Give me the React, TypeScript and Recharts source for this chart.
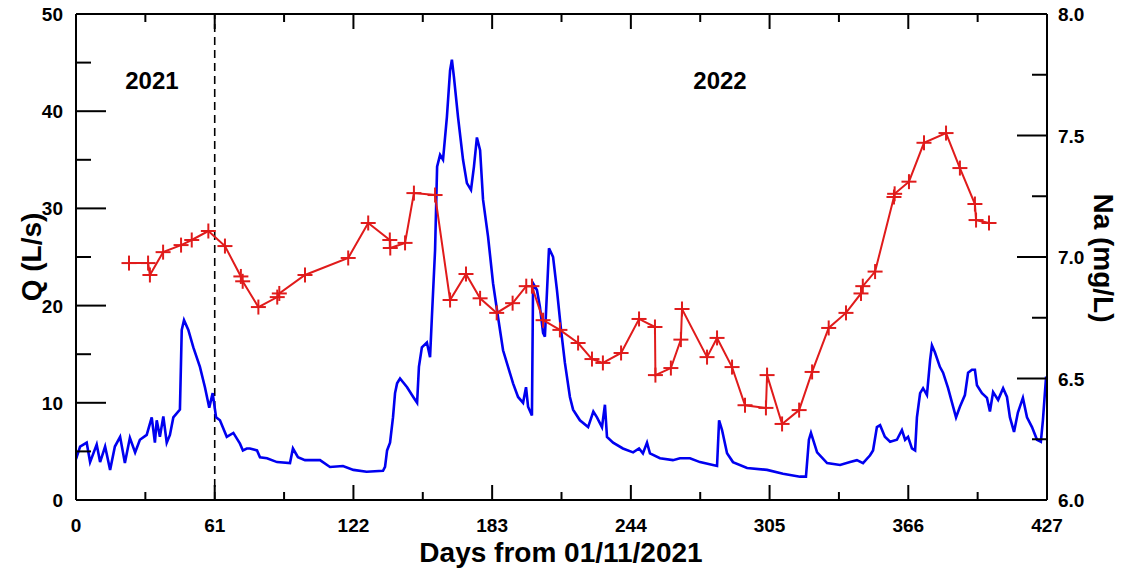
import { ComposedChart, Line, XAxis, YAxis, ReferenceLine, ReferenceDot } from 'recharts';

// discharge Q (L/s): [day, Q]
const flowReadings: [number, number][] = [
  [0, 4.2], [1.8, 5.5], [4.7, 5.9], [6.2, 3.9], [9.1, 5.7], [10.6, 3.9], [12.8, 5.5], [15.0, 3.1],
  [17.1, 5.5], [19.4, 6.5], [21.5, 3.8], [23.7, 6.4], [26.0, 4.9], [28.1, 6.2], [31.1, 6.7], [33.3, 8.5],
  [34.7, 5.9], [35.5, 8.2], [36.9, 6.5], [38.4, 8.6], [39.9, 5.9], [41.3, 6.7], [42.8, 8.5], [45.7, 9.3],
  [46.5, 17.5], [47.5, 18.5], [49.4, 17.5], [51.6, 15.7], [54.5, 13.7], [56.7, 11.6], [58.6, 9.5], [60.1, 11.0],
  [61.6, 8.5], [63.3, 8.2], [66.3, 6.5], [69.2, 6.9], [72.1, 5.8], [73.4, 5.1], [75.1, 5.3], [76.5, 5.3],
  [79.6, 5.1], [80.9, 4.4], [84.0, 4.3], [88.4, 3.9], [94.1, 3.8], [95.4, 5.3], [97.6, 4.4], [100.7, 4.1],
  [107.3, 4.1], [111.7, 3.4], [117.4, 3.5], [122.0, 3.1], [127.8, 2.9], [135.0, 3.0], [135.9, 3.4], [136.8, 5.1],
  [138.1, 5.9], [139.4, 8.5], [140.3, 11.0], [141.2, 12.0], [142.5, 12.5], [145.6, 11.6], [148.3, 10.6], [150.0, 10.0],
  [150.8, 13.7], [152.1, 15.7], [154.3, 16.2], [155.7, 14.7], [156.5, 18.8], [157.9, 25.7], [158.8, 34.3], [160.1, 35.5],
  [161.4, 35.0], [163.1, 39.4], [164.5, 44.2], [165.3, 45.3], [166.2, 43.5], [168.0, 39.4], [170.2, 35.0], [171.9, 32.6],
  [173.7, 31.9], [175.0, 34.3], [176.3, 37.3], [177.7, 36.0], [179.0, 30.9], [181.2, 27.1], [183.4, 22.3], [185.6, 18.8],
  [187.8, 15.4], [190.0, 13.7], [192.2, 12.0], [194.4, 10.6], [196.6, 10.0], [197.9, 11.6], [198.8, 9.6], [200.5, 8.7],
  [201.0, 22.3], [202.7, 21.6], [204.0, 19.9], [205.4, 17.2], [206.2, 16.8], [208.0, 25.9], [209.8, 25.0], [211.5, 21.6],
  [213.3, 17.5], [215.0, 14.1], [217.2, 10.6], [218.6, 9.3], [221.6, 8.2], [225.2, 7.5], [227.5, 9.1], [229.1, 8.5],
  [231.3, 7.5], [232.6, 9.8], [233.5, 6.5], [236.2, 5.9], [240.5, 5.3], [245.0, 4.9], [247.6, 5.3], [249.3, 4.8],
  [251.1, 5.9], [252.4, 4.8], [256.8, 4.3], [262.5, 4.1], [265.6, 4.3], [270.0, 4.3], [274.4, 3.9], [280.1, 3.6],
  [281.9, 3.5], [282.8, 8.2], [284.1, 7.2], [286.3, 4.8], [288.9, 3.9], [295.1, 3.3], [303.9, 3.1], [310.9, 2.7],
  [318.4, 2.4], [321.0, 2.4], [322.3, 6.2], [323.2, 6.9], [325.9, 4.9], [330.3, 3.8], [336.0, 3.6], [340.4, 3.9],
  [343.4, 4.1], [346.1, 3.8], [349.2, 4.6], [350.5, 5.1], [352.2, 7.5], [353.6, 7.7], [355.7, 6.5], [358.0, 6.0],
  [361.0, 6.2], [363.2, 7.2], [364.6, 6.2], [365.9, 6.5], [367.6, 5.3], [369.0, 5.1], [369.8, 8.5], [371.2, 11.0],
  [372.5, 11.5], [374.2, 10.8], [375.6, 14.4], [376.4, 15.9], [377.7, 15.2], [379.9, 13.7], [381.3, 13.1], [383.5, 11.5],
  [385.7, 9.6], [387.0, 8.5], [388.7, 9.6], [390.9, 10.8], [392.3, 13.1], [394.0, 13.4], [395.3, 13.4], [396.2, 11.8],
  [398.4, 11.0], [400.6, 10.5], [401.9, 9.1], [403.3, 11.1], [405.5, 10.3], [407.7, 11.5], [409.4, 10.6], [410.7, 8.5],
  [412.5, 7.0], [414.2, 9.0], [416.4, 10.5], [418.2, 8.5], [420.4, 7.5], [422.6, 6.2], [424.3, 6.0], [425.2, 8.2],
  [426.6, 12.7],
];

// sodium samples Na (mg/L): [day, Na]
const sodiumSamples: [number, number][] = [
  [23.3, 6.975], [31.7, 6.975], [32.5, 6.926], [38.3, 7.02], [46.2, 7.049], [50.9, 7.07], [58.2, 7.107],
  [65.5, 7.045], [72.5, 6.92], [73.3, 6.9], [80.2, 6.794], [88.5, 6.835], [89.4, 6.85], [100.7, 6.926],
  [119.7, 6.996], [128.5, 7.14], [138.0, 7.07], [138.2, 7.037], [144.7, 7.058], [148.6, 7.263], [157.9, 7.255],
  [164.5, 6.823], [171.5, 6.93], [177.7, 6.83], [185.0, 6.77], [192.0, 6.81], [198.0, 6.88], [200.5, 6.88],
  [205.4, 6.74], [212.8, 6.7], [220.8, 6.646], [226.9, 6.58], [231.7, 6.564], [239.7, 6.605], [247.6, 6.745],
  [254.6, 6.712], [254.8, 6.514], [261.6, 6.543], [266.0, 6.66], [266.5, 6.786], [277.5, 6.588], [281.9, 6.667],
  [288.5, 6.547], [294.2, 6.39], [303.4, 6.379], [303.9, 6.514], [310.5, 6.313], [318.0, 6.37], [323.7, 6.527],
  [331.0, 6.708], [338.6, 6.77], [345.2, 6.85], [346.0, 6.88], [351.4, 6.94], [359.7, 7.247], [360.0, 7.26],
  [366.3, 7.31], [372.9, 7.47], [382.6, 7.51], [388.7, 7.366], [395.3, 7.218], [395.8, 7.152], [401.5, 7.14],
];

const dayTicks = [0, 30.5, 61, 91.5, 122, 152.5, 183, 213.5, 244, 274.5, 305, 335.5, 366, 396.5, 427];
const qTicks = [0, 5, 10, 15, 20, 25, 30, 35, 40, 45, 50];
const naTicks = [6, 6.25, 6.5, 6.75, 7, 7.25, 7.5, 7.75, 8];
const yearLabels = [
  { text: '2021', day: 33.4, q: 43.2 },
  { text: '2022', day: 283.2, q: 43.2 },
];
const yearBoundary = 61;

const flowData = flowReadings.map(([day, q]) => ({ day, q }));
const sodiumData = sodiumSamples.map(([day, na]) => ({ day, na }));

const W = 1125;
const H = 575;
const PLOT_TOP = 14;
const PLOT_BOTTOM = 500;
const PLOT_LEFT = 76;
const PLOT_RIGHT = 1047;
const FONT = '"Liberation Sans", Arial, sans-serif';
const RED = '#e01b1b';
const BLUE = '#0000f0';

const XTick = (props: any) => {
  const { x, payload } = props;
  const v = payload.value;
  const major = v % 61 === 0;
  const len = major ? 15 : 8;
  return (
    <g>
      <line x1={x} x2={x} y1={PLOT_BOTTOM} y2={PLOT_BOTTOM - len} stroke="#000" strokeWidth={2} />
      <line x1={x} x2={x} y1={PLOT_TOP} y2={PLOT_TOP + len} stroke="#000" strokeWidth={2} />
      {major && (
        <text x={x} y={532} textAnchor="middle" fontSize={19} fontWeight="bold" fontFamily={FONT} fill="#000">
          {v}
        </text>
      )}
    </g>
  );
};

const QTick = (props: any) => {
  const { y, payload } = props;
  const v = payload.value;
  const major = v % 10 === 0;
  return (
    <g>
      <line x1={PLOT_LEFT} x2={PLOT_LEFT + (major ? 30 : 15)} y1={y} y2={y} stroke="#000" strokeWidth={2} />
      {major && (
        <text x={63} y={y + 7} textAnchor="end" fontSize={19} fontWeight="bold" fontFamily={FONT} fill="#000">
          {v}
        </text>
      )}
    </g>
  );
};

const NaTick = (props: any) => {
  const { y, payload } = props;
  const v = payload.value;
  const major = Math.abs((v * 2) % 1) < 1e-6;
  return (
    <g>
      <line x1={PLOT_RIGHT} x2={PLOT_RIGHT - (major ? 30 : 15)} y1={y} y2={y} stroke="#000" strokeWidth={2} />
      {major && (
        <text x={1058} y={y + 7} textAnchor="start" fontSize={19} fontWeight="bold" fontFamily={FONT} fill="#000">
          {v.toFixed(1)}
        </text>
      )}
    </g>
  );
};

const PlusDot = (props: any) => {
  const { cx, cy, index } = props;
  if (cx == null || cy == null) return <g key={`p${index}`} />;
  return (
    <g key={`p${index}`}>
      <line x1={cx - 7.5} x2={cx + 7.5} y1={cy} y2={cy} stroke={RED} strokeWidth={2} />
      <line x1={cx} x2={cx} y1={cy - 7.5} y2={cy + 7.5} stroke={RED} strokeWidth={2} />
    </g>
  );
};

const titleStyle: React.CSSProperties = {
  position: 'absolute',
  fontFamily: FONT,
  fontWeight: 'bold',
  fontSize: 28,
  whiteSpace: 'nowrap',
  color: '#000',
  lineHeight: 1,
};

export default function App() {
  return (
    <div style={{ position: 'absolute', left: 0, top: 0, width: W, height: H, background: '#fff' }}>
      <ComposedChart width={W} height={H} margin={{ top: PLOT_TOP, right: 0, bottom: 0, left: 0 }}>
        <XAxis
          dataKey="day"
          type="number"
          domain={[0, 427]}
          ticks={dayTicks}
          interval={0}
          allowDataOverflow
          height={75}
          tickLine={false}
          axisLine={{ stroke: '#000', strokeWidth: 2 }}
          tick={<XTick />}
        />
        <YAxis
          yAxisId="left"
          domain={[0, 50]}
          ticks={qTicks}
          interval={0}
          allowDataOverflow
          width={76}
          tickLine={false}
          axisLine={{ stroke: '#000', strokeWidth: 2 }}
          tick={<QTick />}
        />
        <YAxis
          yAxisId="right"
          orientation="right"
          domain={[6, 8]}
          ticks={naTicks}
          interval={0}
          allowDataOverflow
          width={78}
          tickLine={false}
          axisLine={{ stroke: '#000', strokeWidth: 2 }}
          tick={<NaTick />}
        />
        <ReferenceLine yAxisId="left" y={50} stroke="#000" strokeWidth={2} />
        <ReferenceLine yAxisId="left" x={yearBoundary} stroke="#000" strokeWidth={1.6} strokeDasharray="8 5" />
        {yearLabels.map((l) => (
          <ReferenceDot
            key={l.text}
            yAxisId="left"
            x={l.day}
            y={l.q}
            r={0}
            fill="none"
            stroke="none"
            label={{ value: l.text, position: 'center', fontSize: 24, fontWeight: 'bold', fontFamily: FONT, fill: '#000' }}
          />
        ))}
        <Line
          yAxisId="left"
          data={flowData}
          dataKey="q"
          type="linear"
          stroke={BLUE}
          strokeWidth={2.6}
          dot={false}
          isAnimationActive={false}
        />
        <Line
          yAxisId="right"
          data={sodiumData}
          dataKey="na"
          type="linear"
          stroke={RED}
          strokeWidth={2}
          dot={(p: any) => <PlusDot key={`d${p.index}`} {...p} />}
          isAnimationActive={false}
        />
      </ComposedChart>
      <div style={{ ...titleStyle, left: 32, top: 257, transform: 'translate(-50%, -50%) rotate(-90deg)' }}>Q (L/s)</div>
      <div style={{ ...titleStyle, left: 1103, top: 258, transform: 'translate(-50%, -50%) rotate(90deg)' }}>Na (mg/L)</div>
      <div style={{ ...titleStyle, left: 561, top: 553, transform: 'translate(-50%, -50%)' }}>Days from 01/11/2021</div>
    </div>
  );
}
